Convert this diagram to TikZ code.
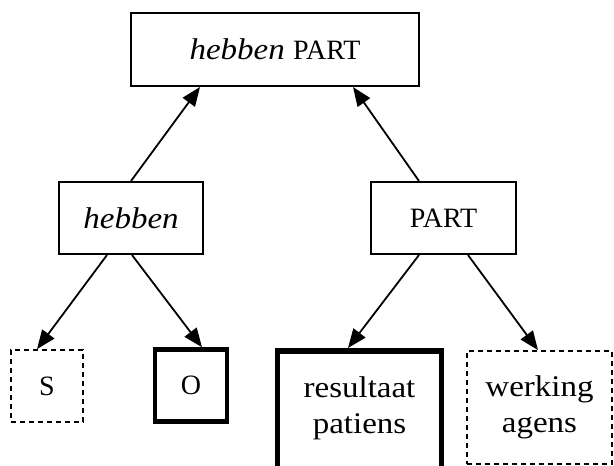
\documentclass[tikz,border=0pt]{standalone}
\usepackage{fontspec}
\setmainfont{Liberation Serif}[FakeStretch=1.1]
\newfontfamily\capsfont{Liberation Serif}
\usetikzlibrary{arrows.meta,calc}
\newcommand{\smallcapsword}[1]{{\capsfont\fontsize{28}{32}\selectfont #1}}
\tikzset{
  box/.style={draw, rectangle, line width=2pt, inner sep=0pt, align=center,
    font=\fontsize{30}{36}\selectfont},
  dashbox/.style={box, line width=1.7pt, dash pattern=on 5pt off 4pt},
  heavybox/.style={box, line width=#1},
  label/.style={inner sep=0pt, align=center, font=\fontsize{30}{36}\selectfont},
  link/.style={line width=1.8pt, -{Triangle[length=19pt,width=15pt]}}
}
\begin{document}
\begin{tikzpicture}[x=1pt,y=-1pt]
  \clip (0,0) rectangle (614,466);

  % upper levels
  \node[box, minimum width=288pt, minimum height=73pt] (top) at (275,49.5)
    {\textit{hebben} \smallcapsword{PART}};
  \node[box, minimum width=144pt, minimum height=72pt] (heb) at (131,218)
    {\textit{hebben}};
  \node[box, minimum width=145pt, minimum height=72pt] (part) at (443.5,218)
    {\smallcapsword{PART}};

  % leaves
  \node[dashbox, minimum width=72pt, minimum height=72pt] (s) at (47,386)
    {\smallcapsword{S}};
  \node[heavybox=4.5pt, minimum width=72pt, minimum height=72pt] (o) at (191,385.5)
    {\smallcapsword{O}};
  \node[heavybox=5.5pt, minimum width=164pt, minimum height=150pt, anchor=north]
    (res) at (359.5,348) {};
  \node[label] (restext) at (359.5,408) {resultaat\\patiens};
  \node[dashbox, minimum width=145pt, minimum height=113pt] (werk) at (539.5,407.5)
    {werking\\agens};

  % connectors
  \draw[link] (heb.north) -- ($(top.south)+(-75,0)$);
  \draw[link] ($(part.north)+(-24.5,0)$) -- ($(top.south)+(78,0)$);
  \draw[link] ($(heb.south)+(-24,0)$) -- ($(s.north)+(-10,0)$);
  \draw[link] ($(heb.south)+(1,0)$) -- ($(o.north)+(11,0)$);
  \draw[link] ($(part.south)+(-24.5,0)$) -- ($(res.north)+(-11.5,0)$);
  \draw[link] ($(part.south)+(24.5,0)$) -- ($(werk.north)+(-1.5,0)$);
\end{tikzpicture}
\end{document}
